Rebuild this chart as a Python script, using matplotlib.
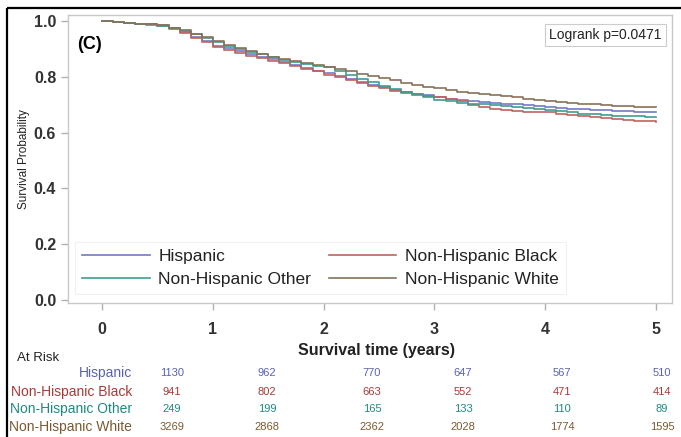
import numpy as np
import matplotlib
matplotlib.use("Agg")
import matplotlib.pyplot as plt
from matplotlib.patches import Rectangle

plt.rcParams["font.family"] = ["Liberation Sans", "DejaVu Sans"]

# survival estimates, every 0.1 year
times = [round(0.1 * i, 1) for i in range(51)]

hispanic = [1.000, 0.997, 0.994, 0.990, 0.988, 0.984, 0.974, 0.960, 0.944, 0.928,
            0.912, 0.902, 0.892, 0.882, 0.872, 0.862, 0.852, 0.843, 0.832, 0.822,
            0.812, 0.802, 0.792, 0.782, 0.772, 0.762, 0.754, 0.746, 0.740, 0.734,
            0.728, 0.722, 0.718, 0.714, 0.710, 0.707, 0.704, 0.701, 0.698, 0.695,
            0.692, 0.689, 0.686, 0.684, 0.682, 0.680, 0.678, 0.676, 0.674, 0.673,
            0.672]
nh_black = [1.000, 0.997, 0.993, 0.990, 0.988, 0.983, 0.972, 0.957, 0.940, 0.924,
            0.908, 0.897, 0.886, 0.876, 0.866, 0.857, 0.848, 0.839, 0.829, 0.819,
            0.808, 0.798, 0.788, 0.778, 0.768, 0.758, 0.750, 0.743, 0.737, 0.731,
            0.726, 0.720, 0.712, 0.700, 0.690, 0.684, 0.680, 0.677, 0.675, 0.674,
            0.672, 0.668, 0.664, 0.660, 0.656, 0.652, 0.649, 0.646, 0.643, 0.641,
            0.639]
nh_other = [1.000, 0.996, 0.992, 0.988, 0.986, 0.982, 0.975, 0.965, 0.952, 0.938,
            0.924, 0.912, 0.900, 0.890, 0.880, 0.870, 0.860, 0.852, 0.845, 0.840,
            0.834, 0.822, 0.808, 0.792, 0.780, 0.768, 0.756, 0.745, 0.734, 0.726,
            0.718, 0.712, 0.707, 0.704, 0.702, 0.700, 0.697, 0.693, 0.688, 0.684,
            0.680, 0.676, 0.672, 0.668, 0.665, 0.662, 0.660, 0.659, 0.658, 0.657,
            0.656]
nh_white = [1.000, 0.997, 0.994, 0.991, 0.988, 0.984, 0.976, 0.966, 0.954, 0.941,
            0.928, 0.915, 0.903, 0.892, 0.882, 0.872, 0.863, 0.855, 0.848, 0.842,
            0.836, 0.828, 0.820, 0.811, 0.803, 0.795, 0.787, 0.779, 0.772, 0.765,
            0.759, 0.753, 0.747, 0.743, 0.739, 0.735, 0.731, 0.727, 0.722, 0.718,
            0.713, 0.710, 0.707, 0.704, 0.701, 0.698, 0.696, 0.694, 0.692, 0.691,
            0.690]

groups = ["Hispanic", "Non-Hispanic Black", "Non-Hispanic Other", "Non-Hispanic White"]
at_risk = {
    "Hispanic": [1130, 962, 770, 647, 567, 510],
    "Non-Hispanic Black": [941, 802, 663, 552, 471, 414],
    "Non-Hispanic Other": [249, 199, 165, 133, 110, 89],
    "Non-Hispanic White": [3269, 2868, 2362, 2028, 1774, 1595],
}

line_colors = ["#7479c4", "#c0625e", "#3f9c8e", "#8a7257"]
text_colors = ["#5a62b0", "#a83a38", "#1f8a80", "#7a5a30"]

W, H = 681, 437
fig = plt.figure(figsize=(W / 100, H / 100), dpi=100)

def fx(px):
    return px / W

def fy(py):
    return 1 - py / H

# outer frame of the picture
fig.patches.append(Rectangle((fx(7), fy(8)), 2, -2, transform=fig.transFigure,
                             fill=False, edgecolor="black", linewidth=1.6))

ax = fig.add_axes([fx(68), fy(303), fx(672) - fx(68), fy(15) - fy(303)])
series = [hispanic, nh_black, nh_other, nh_white]
for name, vals, c in zip(groups, series, line_colors):
    ax.step(times, vals, where="post", color=c, linewidth=1.2, label=name)

ax.set_xlim(-0.307, 5.144)
ax.set_ylim(-0.011, 1.0215)
ax.set_xticks(range(6))
ax.set_yticks([0.0, 0.2, 0.4, 0.6, 0.8, 1.0])
ax.set_yticklabels(["0.0", "0.2", "0.4", "0.6", "0.8", "1.0"])
for s in ax.spines.values():
    s.set_color("#c8c8c8")
    s.set_linewidth(1.0)
ax.tick_params(colors="#b0b0b0", labelcolor="#333333", length=5, width=1.0,
               labelsize=11.5)
for lab in ax.get_xticklabels() + ax.get_yticklabels():
    lab.set_fontweight("bold")
ax.tick_params(axis="x", pad=9)

ax.set_ylabel("Survival Probability", fontsize=8.5, color="#222222", labelpad=3)
ax.text(0.015, 0.896, "(C)", transform=ax.transAxes, fontsize=13,
        fontweight="bold", color="black", va="center")
ax.text(0.983, 0.955, "Logrank p=0.0471", transform=ax.transAxes, fontsize=10,
        ha="right", va="top", color="#222222",
        bbox=dict(boxstyle="square,pad=0.3", facecolor="white",
                  edgecolor="#cccccc", linewidth=0.8))

handles, labels = ax.get_legend_handles_labels()
order = [0, 2, 1, 3]
leg = fig.legend([handles[i] for i in order], [labels[i] for i in order],
                 ncol=2, loc="upper left", bbox_to_anchor=(fx(75), fy(242)),
                 borderaxespad=0, fontsize=12.5, handlelength=3.9,
                 handletextpad=0.5, columnspacing=1.0, labelspacing=0.45,
                 borderpad=0.4, fancybox=False, frameon=True)
leg.get_frame().set_edgecolor("#eeeeee")
leg.get_frame().set_linewidth(0.8)
for t in leg.get_texts():
    t.set_color("#222222")

fig.text(fx(377), fy(350), "Survival time (years)", fontsize=11.5,
         fontweight="bold", ha="center", va="center", color="#222222")

# at-risk table
fig.text(fx(17), fy(358), "At Risk", fontsize=9.5, ha="left", va="center",
         color="#222222")
col_px = [172, 267, 372, 463, 562, 662]
row_px = [373, 392, 409, 427]
for g, c, ry in zip(groups, text_colors, row_px):
    fig.text(fx(132), fy(ry), g, fontsize=10, ha="right", va="center", color=c)
    for cx, n in zip(col_px, at_risk[g]):
        fig.text(fx(cx), fy(ry), str(n), fontsize=8, ha="center", va="center",
                 color=c)

fig.savefig("out.png", dpi=100)
